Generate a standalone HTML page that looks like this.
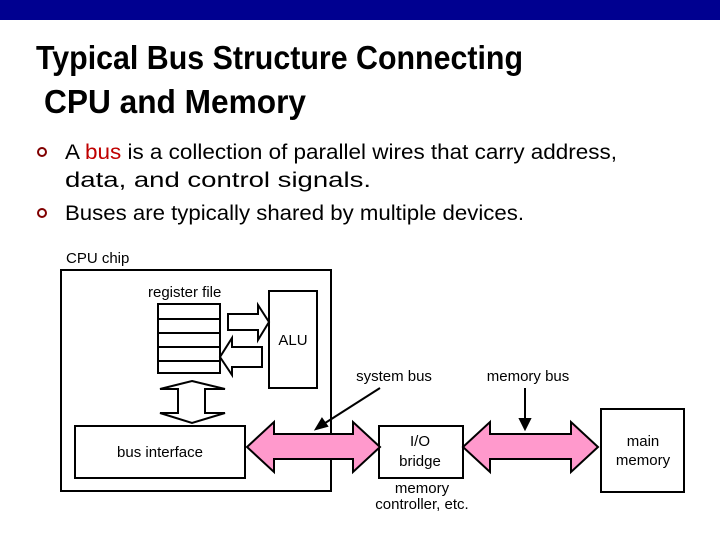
<!DOCTYPE html>
<html><head><style>html,body{margin:0;padding:0;background:#fff}svg{display:block}</style></head>
<body>
<svg width="720" height="540" viewBox="0 0 720 540" xmlns="http://www.w3.org/2000/svg" font-family="Liberation Sans, Arial, sans-serif">
<rect x="0" y="0" width="720" height="20" fill="#000090"/>
<g font-weight="bold" fill="#000" font-size="33">
<text x="36" y="69" textLength="487" lengthAdjust="spacingAndGlyphs">Typical Bus Structure Connecting</text>
<text x="44" y="113" textLength="262" lengthAdjust="spacingAndGlyphs">CPU and Memory</text>
</g>
<g font-size="21" fill="#000">
<circle cx="42" cy="152" r="4" fill="none" stroke="#800000" stroke-width="2"/>
<circle cx="42" cy="213" r="4" fill="none" stroke="#800000" stroke-width="2"/>
<text x="65" y="159" textLength="552" lengthAdjust="spacingAndGlyphs">A <tspan fill="#c00000">bus</tspan> is a collection of parallel wires that carry address,</text>
<text x="65" y="187" textLength="306" lengthAdjust="spacingAndGlyphs">data, and control signals.</text>
<text x="65" y="220" textLength="459" lengthAdjust="spacingAndGlyphs">Buses are typically shared by multiple devices.</text>
</g>
<g fill="none" stroke="#000" stroke-width="2">
<rect x="61" y="270" width="270" height="221"/>
<rect x="158" y="304" width="62" height="69"/>
<line x1="158" y1="319" x2="220" y2="319"/>
<line x1="158" y1="333" x2="220" y2="333"/>
<line x1="158" y1="347" x2="220" y2="347"/>
<line x1="158" y1="361" x2="220" y2="361"/>
<rect x="269" y="291" width="48" height="97"/>
<polygon points="228,314 258,314 258,305 269,322 258,340 258,330 228,330" fill="#fff"/>
<polygon points="262,347 232,347 232,338 220,357 232,375 232,367 262,367" fill="#fff"/>
<polygon points="192,381 225,389 205,389 205,413 225,413 192,423 160,413 178,413 178,389 160,389" fill="#fff"/>
<rect x="75" y="426" width="170" height="52" fill="#fff"/>
<rect x="379" y="426" width="84" height="52" fill="#fff"/>
<rect x="601" y="409" width="83" height="83" fill="#fff"/>
</g>
<g fill="#ff99cc" stroke="#000" stroke-width="2">
<polygon points="247,447 274,422 274,434 353,434 353,422 380,447 353,472 353,459 274,459 274,472"/>
<polygon points="463,447 490,422 490,434 571,434 571,422 598,447 571,472 571,459 490,459 490,472"/>
</g>
<g stroke="#000" stroke-width="2" fill="#000">
<line x1="380" y1="388" x2="322" y2="425"/>
<polygon points="316,429 322,419 327,426"/>
<line x1="525" y1="388" x2="525" y2="420"/>
<polygon points="520,419 530,419 525,429"/>
</g>
<g font-size="15" fill="#000">
<text x="66" y="263">CPU chip</text>
<text x="148" y="297">register file</text>
<text x="293" y="345" text-anchor="middle">ALU</text>
<text x="160" y="457" text-anchor="middle">bus interface</text>
<text x="394" y="381" text-anchor="middle">system bus</text>
<text x="528" y="381" text-anchor="middle">memory bus</text>
<text x="420" y="446" text-anchor="middle">I/O</text>
<text x="420" y="466" text-anchor="middle">bridge</text>
<text x="643" y="446" text-anchor="middle">main</text>
<text x="643" y="465" text-anchor="middle">memory</text>
<text x="422" y="493" text-anchor="middle">memory</text>
<text x="422" y="509" text-anchor="middle">controller, etc.</text>
</g>
</svg>
</body></html>
